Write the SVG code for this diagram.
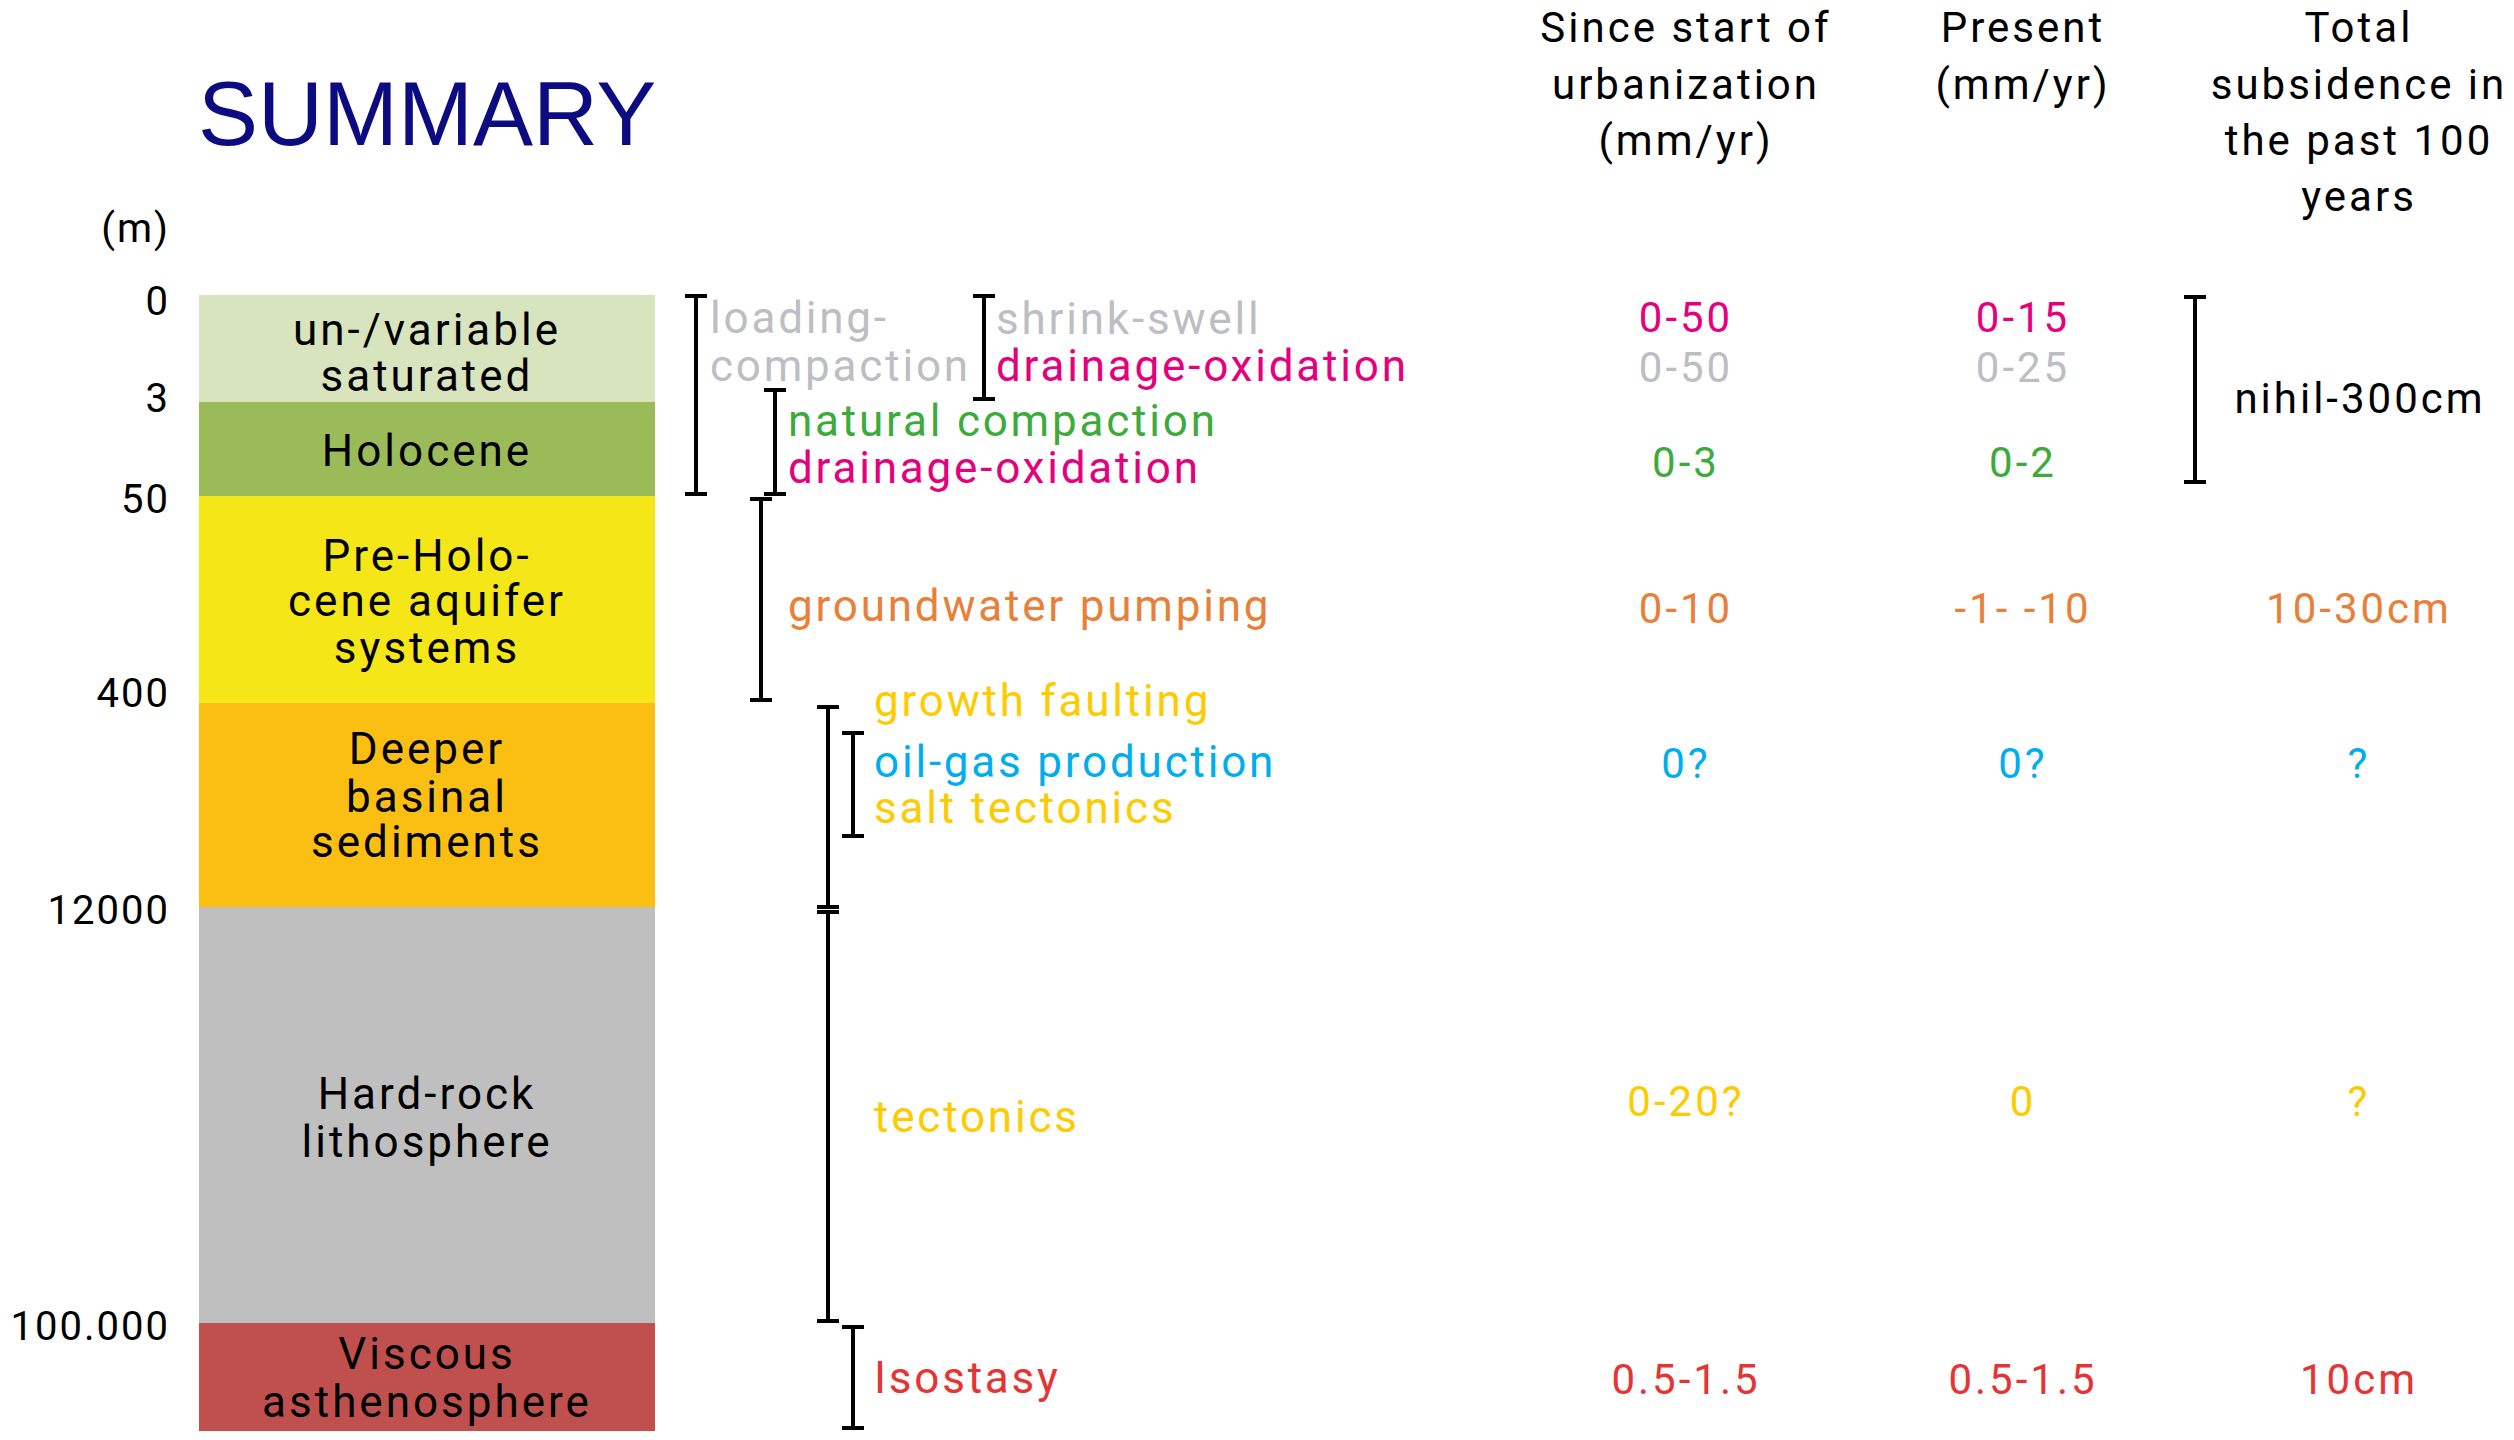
<svg xmlns="http://www.w3.org/2000/svg" width="2514" height="1440" viewBox="0 0 2514 1440">
<style>
text{font-family:Roboto,"Liberation Sans",sans-serif}
.title{font-family:"Liberation Sans",Arial,sans-serif;font-size:90px;fill:#0c0c80}
.dep{font-size:40px;letter-spacing:2px;fill:#000;text-anchor:end}
.lay{font-size:44px;letter-spacing:3px;fill:#000;text-anchor:middle}
.hd{font-size:42px;letter-spacing:3px;fill:#000;text-anchor:middle}
.val{font-size:42px;letter-spacing:3px;text-anchor:middle}
.proc{font-size:44px;letter-spacing:2.8px}
.gray{fill:#bdbdc4}.pink{fill:#e5007e}.green{fill:#3cab3c}.orange{fill:#e8803a}
.yellow{fill:#fdcb00}.blue{fill:#00aeef}.red{fill:#e53434}.black{fill:#000}
.br{fill:none;stroke:#000;stroke-width:4}
</style>
<rect width="2514" height="1440" fill="#fff"/>
<text class="title" x="198" y="145">SUMMARY</text>
<g id="depth-axis">
<text class="dep" x="170" y="242">(m)</text>
<text class="dep" x="170" y="315">0</text>
<text class="dep" x="170" y="412">3</text>
<text class="dep" x="170" y="513">50</text>
<text class="dep" x="170" y="707">400</text>
<text class="dep" x="170" y="924">12000</text>
<text class="dep" x="170" y="1340">100.000</text>
</g>
<g id="layer-unsaturated"><rect x="199" y="295" width="456" height="107" fill="#d7e4bd"/><text class="lay" x="427" y="345">un-/variable</text><text class="lay" x="427" y="391">saturated</text></g>
<g id="layer-holocene"><rect x="199" y="402" width="456" height="94" fill="#9bbb59"/><text class="lay" x="427" y="466">Holocene</text></g>
<g id="layer-preholocene"><rect x="199" y="496" width="456" height="207" fill="#f5e617"/><text class="lay" x="427" y="571">Pre-Holo-</text><text class="lay" x="427" y="616">cene aquifer</text><text class="lay" x="427" y="663">systems</text></g>
<g id="layer-deeper"><rect x="199" y="703" width="456" height="204" fill="#fbbf13"/><text class="lay" x="427" y="764">Deeper</text><text class="lay" x="427" y="812">basinal</text><text class="lay" x="427" y="857">sediments</text></g>
<g id="layer-hardrock"><rect x="199" y="907" width="456" height="416" fill="#bfbfbf"/><text class="lay" x="427" y="1109">Hard-rock</text><text class="lay" x="427" y="1157">lithosphere</text></g>
<g id="layer-viscous"><rect x="199" y="1323" width="456" height="108" fill="#c0504d"/><text class="lay" x="427" y="1369">Viscous</text><text class="lay" x="427" y="1417">asthenosphere</text></g>
<g id="brackets">
<path class="br" d="M685,296h22M696,296V494M685,494h22"/>
<path class="br" d="M973,296h22M984,296V399M973,399h22"/>
<path class="br" d="M764,390h22M775,390V494M764,494h22"/>
<path class="br" d="M750,499h22M761,499V700M750,700h22"/>
<path class="br" d="M817,707h22M828,707V907M817,907h22"/>
<path class="br" d="M842,733h22M853,733V836M842,836h22"/>
<path class="br" d="M817,912h22M828,912V1321M817,1321h22"/>
<path class="br" d="M842,1327h22M853,1327V1428M842,1428h22"/>
<path class="br" d="M2184,297h22M2195,297V482M2184,482h22"/>
</g>
<g id="processes">
<text class="proc gray" x="710" y="333">loading-</text>
<text class="proc gray" x="710" y="381">compaction</text>
<text class="proc gray" x="996" y="334">shrink-swell</text>
<text class="proc pink" x="996" y="381">drainage-oxidation</text>
<text class="proc green" x="788" y="436">natural compaction</text>
<text class="proc pink" x="788" y="483">drainage-oxidation</text>
<text class="proc orange" x="788" y="621">groundwater pumping</text>
<text class="proc yellow" x="874" y="716">growth faulting</text>
<text class="proc blue" x="874" y="777">oil-gas production</text>
<text class="proc yellow" x="874" y="823">salt tectonics</text>
<text class="proc yellow" x="874" y="1132">tectonics</text>
<text class="proc red" x="874" y="1393">Isostasy</text>
</g>
<g id="headers">
<text class="hd" x="1686" y="42">Since start of</text>
<text class="hd" x="1686" y="99">urbanization</text>
<text class="hd" x="1686" y="155">(mm/yr)</text>
<text class="hd" x="2023" y="42">Present</text>
<text class="hd" x="2023" y="99">(mm/yr)</text>
<text class="hd" x="2359" y="42">Total</text>
<text class="hd" x="2359" y="99">subsidence in</text>
<text class="hd" x="2359" y="155">the past 100</text>
<text class="hd" x="2359" y="211">years</text>
</g>
<g id="values">
<text class="val pink" x="1686" y="332">0-50</text>
<text class="val pink" x="2023" y="332">0-15</text>
<text class="val gray" x="1686" y="382">0-50</text>
<text class="val gray" x="2023" y="382">0-25</text>
<text class="val green" x="1686" y="477">0-3</text>
<text class="val green" x="2023" y="477">0-2</text>
<text class="val black" x="2360" y="413">nihil-300cm</text>
<text class="val orange" x="1686" y="623">0-10</text>
<text class="val orange" x="2023" y="623">-1- -10</text>
<text class="val orange" x="2359" y="623">10-30cm</text>
<text class="val blue" x="1686" y="778">0?</text>
<text class="val blue" x="2023" y="778">0?</text>
<text class="val blue" x="2359" y="778">?</text>
<text class="val yellow" x="1686" y="1116">0-20?</text>
<text class="val yellow" x="2023" y="1116">0</text>
<text class="val yellow" x="2359" y="1116">?</text>
<text class="val red" x="1686" y="1394">0.5-1.5</text>
<text class="val red" x="2023" y="1394">0.5-1.5</text>
<text class="val red" x="2359" y="1394">10cm</text>
</g>
</svg>
